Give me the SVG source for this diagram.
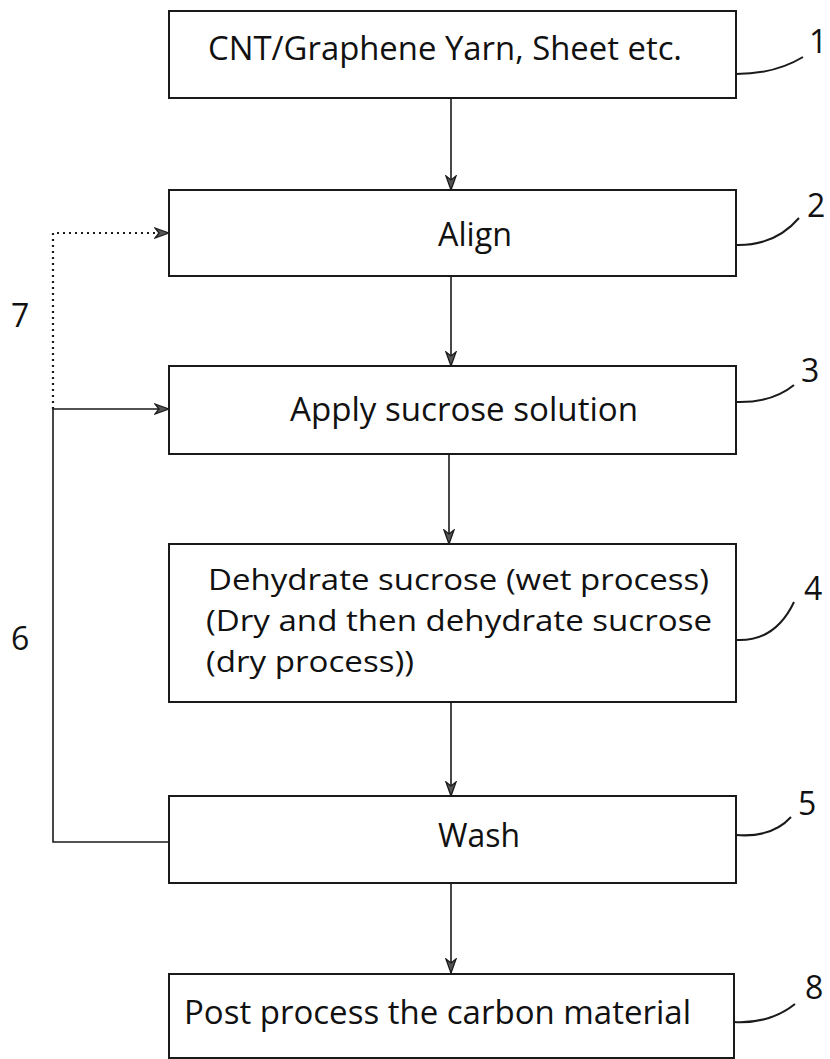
<svg xmlns="http://www.w3.org/2000/svg" width="830" height="1059" viewBox="0 0 830 1059">
  <style>
    .box { fill: #ffffff; stroke: #1a1a1a; stroke-width: 2; }
    .txt { font-family: "Open Sans", "Liberation Sans", sans-serif; font-size: 33px; fill: #111111; }
    .txt4 { font-family: "Open Sans", "Liberation Sans", sans-serif; font-size: 30px; fill: #111111; }
    .lbl { font-family: "Open Sans", "Liberation Sans", sans-serif; font-size: 32px; fill: #111111; }
    .conn { fill: none; stroke: #1a1a1a; stroke-width: 1.6; }
    .dot { fill: none; stroke: #1a1a1a; stroke-width: 2.2; stroke-dasharray: 2 4; }
    .lead { fill: none; stroke: #1a1a1a; stroke-width: 2; }
  </style>
  <defs>
    <marker id="arr" viewBox="0 0 16 12" refX="15" refY="6" markerWidth="16" markerHeight="12" markerUnits="userSpaceOnUse" orient="auto">
      <path d="M1,1 L15,6 L1,11 L5,6 Z" fill="#555555" stroke="#1a1a1a" stroke-width="1.3"/>
    </marker>
  </defs>
  <rect width="830" height="1059" fill="#ffffff"/>

  <g id="connectors">
    <line class="conn" x1="451" y1="98" x2="451" y2="190" marker-end="url(#arr)"/>
    <line class="conn" x1="451" y1="276" x2="451" y2="366" marker-end="url(#arr)"/>
    <line class="conn" x1="449" y1="454" x2="449" y2="544" marker-end="url(#arr)"/>
    <line class="conn" x1="451" y1="702" x2="451" y2="796" marker-end="url(#arr)"/>
    <line class="conn" x1="451" y1="883" x2="451" y2="973" marker-end="url(#arr)"/>
    <path class="conn" d="M169,842 H53 V409 H169" marker-end="url(#arr)"/>
    <path class="dot" d="M53,409 V233 H169" marker-end="url(#arr)"/>
  </g>

  <g id="node1">
    <rect class="box" x="169" y="11" width="567" height="87"/>
    <text class="txt" x="208" y="60" textLength="474" lengthAdjust="spacingAndGlyphs">CNT/Graphene Yarn, Sheet etc.</text>
    <path class="lead" d="M736,74 Q775,74 803,57"/>
    <text class="lbl" x="809" y="53">1</text>
  </g>

  <g id="node2">
    <rect class="box" x="169" y="190" width="567" height="86"/>
    <text class="txt" x="438" y="246" textLength="74" lengthAdjust="spacingAndGlyphs">Align</text>
    <path class="lead" d="M736,245 Q775,246 799,218"/>
    <text class="lbl" x="807" y="217">2</text>
  </g>

  <g id="node3">
    <rect class="box" x="169" y="366" width="567" height="88"/>
    <text class="txt" x="290" y="421" textLength="348" lengthAdjust="spacingAndGlyphs">Apply sucrose solution</text>
    <path class="lead" d="M736,402 Q772,403 794,385"/>
    <text class="lbl" x="801" y="382">3</text>
  </g>

  <g id="node4">
    <rect class="box" x="169" y="544" width="567" height="158"/>
    <text class="txt4" x="208" y="590" textLength="501" lengthAdjust="spacingAndGlyphs">Dehydrate sucrose (wet process)</text>
    <text class="txt4" x="206" y="631" textLength="506" lengthAdjust="spacingAndGlyphs">(Dry and then dehydrate sucrose</text>
    <text class="txt4" x="206" y="672" textLength="208" lengthAdjust="spacingAndGlyphs">(dry process))</text>
    <path class="lead" d="M736,640 Q775,642 794,602"/>
    <text class="lbl" x="804" y="600">4</text>
  </g>

  <g id="node5">
    <rect class="box" x="169" y="796" width="567" height="87"/>
    <text class="txt" x="438" y="847" textLength="82" lengthAdjust="spacingAndGlyphs">Wash</text>
    <path class="lead" d="M736,835 Q772,838 791,817"/>
    <text class="lbl" x="798" y="815">5</text>
  </g>

  <g id="node8">
    <rect class="box" x="169" y="974" width="565" height="84"/>
    <text class="txt" x="184" y="1024" textLength="507" lengthAdjust="spacingAndGlyphs">Post process the carbon material</text>
    <path class="lead" d="M734,1022 Q770,1024 795,1004"/>
    <text class="lbl" x="805" y="999">8</text>
  </g>

  <g id="labels">
    <text class="lbl" x="11" y="327">7</text>
    <text class="lbl" x="11" y="650">6</text>
  </g>
</svg>
